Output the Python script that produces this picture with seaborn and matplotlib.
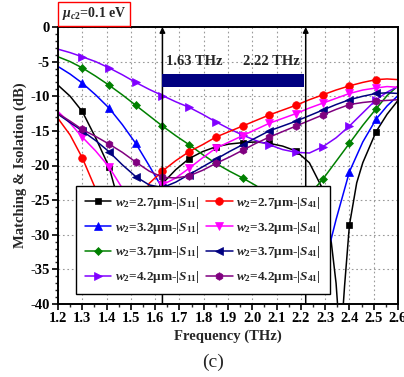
import numpy as np
import matplotlib
matplotlib.use("Agg")
import matplotlib.pyplot as plt
from matplotlib.patches import Rectangle
import seaborn as sns

# ---------------- data ----------------
F = [1.2, 1.25, 1.30, 1.355, 1.41, 1.465, 1.52, 1.575, 1.63, 1.685, 1.74, 1.795,
     1.85, 1.905, 1.96, 2.015, 2.07, 2.125, 2.18, 2.235, 2.29, 2.345, 2.40,
     2.455, 2.51, 2.555, 2.6]
F_27_S11 = [1.2, 1.25, 1.30, 1.355, 1.41, 1.44, 1.465, 1.50, 1.54, 1.575, 1.63,
            1.685, 1.74, 1.795, 1.85, 1.905, 1.96, 2.015, 2.07, 2.125, 2.18,
            2.235, 2.29, 2.32, 2.345, 2.363, 2.38, 2.40, 2.43, 2.455, 2.51,
            2.555, 2.6]
MARK_F = [1.30, 1.41, 1.52, 1.63, 1.74, 1.85, 1.96, 2.07, 2.18, 2.29, 2.40, 2.51]

s11_27 = [-8.4, -10.0, -12.2, -16.0, -20.2, -24.0, -29.0, -35.0, -33.0, -27.5,
          -22.6, -20.6, -19.0, -18.0, -17.3, -16.9, -16.7, -16.6, -16.8, -17.2,
          -17.9, -19.6, -23.4, -29.5, -37.0, -46.0, -37.4, -28.6, -22.5, -19.6,
          -15.1, -12.6, -10.6]
s41_27 = [-13.2, -15.6, -18.9, -23.4, -30.0, -35.0, -28.0, -22.6, -20.8, -19.3,
          -18.0, -17.0, -15.9, -15.1, -14.3, -13.5, -12.7, -12.0, -11.3, -10.5,
          -9.8, -9.1, -8.5, -8.0, -7.6, -7.5, -7.6]
s11_32 = [-5.7, -6.8, -8.1, -9.8, -11.7, -14.1, -16.8, -20.0, -23.3, -26.5,
          -29.0, -31.0, -32.5, -33.5, -34.5, -35.3, -36.0, -36.5, -37.0, -37.2,
          -35.5, -27.8, -20.9, -16.6, -13.3, -11.4, -9.9]
s41_32 = [-12.2, -13.9, -15.9, -17.9, -20.2, -23.3, -30.0, -28.0, -22.8, -21.8,
          -20.4, -18.9, -17.5, -16.6, -15.7, -14.8, -13.9, -13.2, -12.5, -11.7,
          -11.0, -10.3, -9.6, -9.1, -8.8, -8.6, -8.7]
s11_37 = [-4.3, -5.0, -5.9, -7.1, -8.4, -9.8, -11.3, -12.8, -14.3, -15.7, -17.0,
          -18.4, -19.7, -20.8, -21.8, -22.9, -24.3, -25.6, -26.0, -24.2, -22.0,
          -19.4, -16.8, -14.2, -11.8, -9.9, -8.5]
s41_37 = [-12.6, -13.8, -15.0, -16.4, -18.0, -19.9, -21.6, -22.8, -23.2, -22.4,
          -21.3, -20.2, -19.1, -18.0, -17.0, -16.0, -15.0, -14.3, -13.6, -12.8,
          -12.0, -11.2, -10.5, -10.0, -9.6, -9.5, -9.6]
s11_42 = [-3.2, -3.7, -4.3, -5.0, -5.9, -6.9, -8.0, -9.0, -9.9, -10.8, -11.6,
          -12.6, -13.7, -14.7, -15.6, -16.4, -17.0, -17.7, -18.1, -18.2, -17.3,
          -16.0, -14.3, -12.4, -10.5, -9.4, -8.6]
s41_42 = [-12.5, -13.6, -14.8, -15.8, -16.9, -18.1, -19.5, -20.8, -21.7, -21.8,
          -21.5, -20.7, -19.7, -18.8, -17.8, -16.8, -15.9, -15.1, -14.3, -13.5,
          -12.7, -11.9, -11.2, -10.9, -10.7, -10.6, -10.5]

LABELS_S11 = [r"$w_2$=2.7μm-|$S_{11}$|", r"$w_2$=3.2μm-|$S_{11}$|",
              r"$w_2$=3.7μm-|$S_{11}$|", r"$w_2$=4.2μm-|$S_{11}$|"]
LABELS_S41 = [r"$w_2$=2.7μm-|$S_{41}$|", r"$w_2$=3.2μm-|$S_{41}$|",
              r"$w_2$=3.7μm-|$S_{41}$|", r"$w_2$=4.2μm-|$S_{41}$|"]
X_TICKS = [1.2, 1.3, 1.4, 1.5, 1.6, 1.7, 1.8, 1.9, 2.0, 2.1, 2.2, 2.3, 2.4, 2.5, 2.6]
Y_TICKS = [0, -5, -10, -15, -20, -25, -30, -35, -40]
BAND = [1.63, 2.22]

# ---------------- style ----------------
sns.set_theme(style="ticks")
plt.rcParams["font.family"] = ["Liberation Serif", "DejaVu Serif"]
plt.rcParams["font.weight"] = "bold"
plt.rcParams["axes.labelweight"] = "bold"
plt.rcParams["mathtext.fontset"] = "custom"
plt.rcParams["mathtext.rm"] = "Liberation Serif:bold"
plt.rcParams["mathtext.it"] = "Liberation Serif:italic:bold"
plt.rcParams["mathtext.bf"] = "Liberation Serif:bold"
plt.rcParams["axes.unicode_minus"] = False

fig = plt.figure(figsize=(4.04, 3.77), dpi=100)
ax = fig.add_axes([58 / 404, 1 - 304 / 377, 340 / 404, 277 / 377])

series = [
    (F_27_S11, s11_27, "#000000", "s", 4.5, LABELS_S11[0]),
    (F, s11_32, "#0000FF", "^", 5.5, LABELS_S11[1]),
    (F, s11_37, "#008000", "D", 4.5, LABELS_S11[2]),
    (F, s11_42, "#8000FF", ">", 5.5, LABELS_S11[3]),
    (F, s41_27, "#FF0000", "o", 5.5, LABELS_S41[0]),
    (F, s41_32, "#FF00FF", "v", 5.5, LABELS_S41[1]),
    (F, s41_37, "#000080", "<", 5.5, LABELS_S41[2]),
    (F, s41_42, "#800080", "h", 5.5, LABELS_S41[3]),
]

handles = []
for fx, fy, col, mk, ms, lab in series:
    fx = np.asarray(fx)
    idx = [int(np.argmin(np.abs(fx - m))) for m in MARK_F]
    sns.lineplot(x=fx, y=fy, ax=ax, color=col, marker=mk, markersize=ms,
                 markevery=idx, markeredgecolor=col, markerfacecolor=col,
                 markeredgewidth=0.5, lw=1.1, label=lab, errorbar=None,
                 sort=False, legend=False)
    handles.append(ax.lines[-1])

ax.set_xlim(1.2, 2.6)
ax.set_ylim(-40, 0)
ax.set_xticks(X_TICKS)
ax.set_xticklabels([f"{v:.1f}" for v in X_TICKS])
ax.set_yticks(Y_TICKS)
ax.set_yticklabels([f"{v:d}" for v in Y_TICKS])
ax.set_xticks(np.arange(1.25, 2.6, 0.1), minor=True)
ax.set_yticks(np.arange(-40, 0, 1), minor=True)
ax.tick_params(which="major", direction="out", length=4, width=1.2,
               labelsize=10.5, pad=2, colors="black")
ax.tick_params(which="minor", direction="out", length=2.5, width=1.0)
for lbl in ax.get_xticklabels() + ax.get_yticklabels():
    lbl.set_fontweight("bold")
for sp in ax.spines.values():
    sp.set_linewidth(1.4)
    sp.set_color("black")
ax.grid(True, which="major", linestyle=(0, (1.5, 2.5)), color="#999999", lw=0.8)

ax.set_xlabel("Frequency (THz)", fontsize=10.5, fontweight="bold", labelpad=3)
ax.set_ylabel("Matching & Isolation (dB)", fontsize=10.5, fontweight="bold", labelpad=2)

# band annotation
for b in BAND:
    ax.annotate("", xy=(b, 0), xytext=(b, -40),
                arrowprops=dict(arrowstyle="-|>", color="black", lw=1.1,
                                mutation_scale=8, shrinkA=0, shrinkB=0),
                zorder=3)
ax.add_patch(Rectangle((BAND[0], -8.7), 2.213 - BAND[0], 1.9,
                       facecolor="#000080", edgecolor="none", zorder=3))
ax.text(1.643, -5.0, "1.63 THz", fontsize=10.5, fontweight="bold",
        ha="left", va="center", zorder=4)
ax.text(2.197, -5.0, "2.22 THz", fontsize=10.5, fontweight="bold",
        ha="right", va="center", zorder=4)

leg = ax.legend(handles=handles, loc="lower left", ncol=2,
                bbox_to_anchor=(0.053, 0.036), fontsize=9.5, frameon=True,
                fancybox=False, edgecolor="black", framealpha=1.0,
                handlelength=2.0, handletextpad=0.3, columnspacing=0.5,
                labelspacing=0.68, borderpad=0.65, borderaxespad=0,
                numpoints=1)
leg.get_frame().set_linewidth(1.0)
leg.set_zorder(10)

fig.text(62 / 404, 1 - 14 / 377, r"$μ_{c2}$=0.1 eV", fontsize=10,
         fontweight="bold", ha="left", va="center",
         bbox=dict(boxstyle="square,pad=0.28", facecolor="white",
                   edgecolor="red", linewidth=1.0))
fig.text(213 / 404, 1 - 362 / 377, "(c)", fontsize=14, fontweight="normal",
         ha="center", va="center")

fig.savefig("out.png", dpi=100)
